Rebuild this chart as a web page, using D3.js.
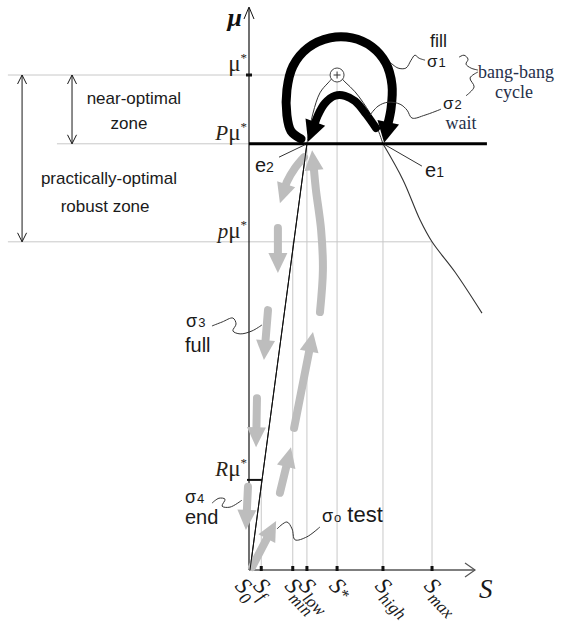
<!DOCTYPE html>
<html><head><meta charset="utf-8">
<script src="https://cdn.jsdelivr.net/npm/d3@7"></script>
<style>html,body{margin:0;padding:0;background:#fff;} svg{display:block;}</style>
</head><body>
<svg id="chart" width="561" height="624"></svg>
<script>
// ================= DATA =================
// substrate concentration ticks on the S axis
const sTickNames  = ["0", "f", "min", "low", "*", "high", "max"];
const sTickValues = [0, 5, 19, 25.3, 38.7, 59.1, 80.9];
// mu level where each vertical guide stops
const sTickGuideTop = [0, 0.182, 0.663, 0.861, 1.0, 0.861, 0.663];
// growth-rate levels on the mu axis
const muLevelPrefix = ["", "P", "p", "R"];
const muLevelValues = [1.0, 0.861, 0.663, 0.182];
// mu(S) curve pieces [S, mu]
const curveRise = [[0, 0], [25.3, 0.861]];
const curveTop  = [[25.3, 0.861], [28, 0.923], [31.1, 0.964], [34.7, 0.984], [38.7, 1.0],
                   [42.2, 0.986], [46.7, 0.966], [50.2, 0.945], [53.3, 0.923], [56.4, 0.895], [59.1, 0.861]];
const curveFall = [[59.1, 0.861], [68, 0.788], [75.6, 0.707], [80.9, 0.663], [91.1, 0.602], [103.1, 0.519]];
// bang-bang cycle arrows [S, mu]
const fillArrow = [[22.7, 0.871], [18.2, 0.887], [16.4, 0.919], [16.4, 0.970], [19.1, 1.018], [25.8, 1.055],
                   [35.6, 1.075], [45.3, 1.075], [54.2, 1.057], [60.4, 1.024], [63.1, 0.980], [62.7, 0.933], [59.6, 0.863]];
const waitArrow = [[56, 0.893], [51.6, 0.921], [46.7, 0.947], [42.2, 0.958], [37.8, 0.958],
                   [33.3, 0.943], [30.2, 0.919], [25.8, 0.865]];
// gray phase arrows (full / end going down, test going up)
const fullArrows = [
  [[24, 0.834], [20, 0.812], [16.4, 0.784], [13.3, 0.741]],
  [[12.4, 0.691], [12.4, 0.600]],
  [[8, 0.525], [6.2, 0.424]],
  [[3.1, 0.347], [2.7, 0.248]],
  [[-0.9, 0.168], [-1.8, 0.081]]
];
const testArrows = [
  [[0.9, 0.006], [11.6, 0.099]],
  [[13.3, 0.156], [18.2, 0.248]],
  [[19.6, 0.287], [28, 0.481]],
  [[31.1, 0.521], [32.4, 0.606], [31.6, 0.687], [29.3, 0.768], [27.6, 0.848]]
];
// wavy leader lines [S, mu]
const leaders = [
  [[62.2, 1.026], [65.8, 1.014], [69.3, 1.014], [71.6, 1.030], [73.3, 1.040], [75.1, 1.034], [77.8, 1.030]],
  [[92.9, 1.036], [95.1, 1.040], [96.9, 1.032], [96, 1.022], [98.2, 1.014], [101.3, 1.010]],
  [[101.3, 1.006], [97.8, 0.994], [99.6, 0.976], [96, 0.958]],
  [[53.3, 0.919], [56.9, 0.937], [61.3, 0.945], [66.7, 0.941], [69.8, 0.929], [72, 0.913], [77.8, 0.919], [84.9, 0.931]],
  [[12.9, 0.834], [24.4, 0.859]],
  [[60, 0.859], [76.4, 0.816]],
  [[-16.9, 0.493], [-12.4, 0.501], [-7.6, 0.509], [-6.2, 0.497], [-7.6, 0.483], [-4.4, 0.477], [0.9, 0.483], [5.3, 0.495]],
  [[-16.9, 0.135], [-13.8, 0.145], [-11.1, 0.143], [-12.4, 0.129], [-8.9, 0.127], [-3.6, 0.141]],
  [[12, 0.083], [16.4, 0.097], [18.7, 0.083], [20, 0.061], [25.3, 0.067], [31.1, 0.087]]
];
// zone extents (mu ranges)
const zoneRanges = [[1.0, 0.861], [1.0, 0.663]];
const zoneAxisS  = [-79.1, -101.3];
// text annotations: [text, S, mu]
const sideTexts = [
  ["near-optimal", -51.6, 0.941], ["zone", -53.8, 0.891],
  ["practically-optimal", -62.7, 0.780], ["robust zone", -64.4, 0.723]
];

// ================= SCALES =================
const svg = d3.select("#chart");
const xS = d3.scaleLinear().domain([0, 100]).range([250, 475]);
const yM = d3.scaleLinear().domain([0, 1]).range([570, 75]);
const P = d => [xS(d[0]), yM(d[1])];

const SANS = "'Liberation Sans', Arial, sans-serif";
const SERIF = "'Liberation Serif', 'Times New Roman', serif";
const INK = "#1a1a1a";
const GRID = "#c8c8c8";

// ================= GUIDES =================
const g = svg.append("g");
g.append("line").attr("x1", xS(-107.6)).attr("x2", xS(35.6)).attr("y1", yM(1)).attr("y2", yM(1))
  .attr("stroke", GRID).attr("stroke-width", 1);
g.append("line").attr("x1", xS(-85.8)).attr("x2", xS(0)).attr("y1", yM(0.861)).attr("y2", yM(0.861))
  .attr("stroke", GRID).attr("stroke-width", 1);
g.append("line").attr("x1", xS(-107.6)).attr("x2", xS(80.9)).attr("y1", yM(0.663)).attr("y2", yM(0.663))
  .attr("stroke", GRID).attr("stroke-width", 1);
sTickValues.forEach((v, i) => {
  if (i === 0) return;
  g.append("line").attr("x1", xS(v)).attr("x2", xS(v)).attr("y1", yM(0)).attr("y2", yM(sTickGuideTop[i]))
    .attr("stroke", GRID).attr("stroke-width", 1);
});

// ================= ZONE ARROWS =================
function vhead(x, y, dir) {
  return `M${x - 4.5},${y - dir * 9}L${x},${y}L${x + 4.5},${y - dir * 9}`;
}
zoneRanges.forEach((r, i) => {
  const x = xS(zoneAxisS[i]);
  const y1 = yM(r[0]), y2 = yM(r[1]);
  g.append("line").attr("x1", x).attr("x2", x).attr("y1", y1).attr("y2", y2).attr("stroke", INK).attr("stroke-width", 1);
  g.append("path").attr("d", vhead(x, y1, -1) + vhead(x, y2, 1)).attr("fill", "none").attr("stroke", INK).attr("stroke-width", 1);
});
sideTexts.forEach(t => {
  g.append("text").attr("x", xS(t[1])).attr("y", yM(t[2])).attr("text-anchor", "middle")
    .attr("font-family", SANS).attr("font-size", 17).attr("fill", INK).text(t[0]);
});

// ================= AXES =================
g.append("line").attr("x1", xS(0) - 1).attr("x2", xS(0) - 1).attr("y1", yM(0)).attr("y2", 8)
  .attr("stroke", "#111").attr("stroke-width", 1.2);
g.append("path").attr("d", `M${xS(0) - 6},${19}L${xS(0) - 1},${7}L${xS(0) + 4},${19}`)
  .attr("fill", "none").attr("stroke", "#111").attr("stroke-width", 1);
g.append("line").attr("x1", xS(0) - 1).attr("x2", xS(100)).attr("y1", yM(0)).attr("y2", yM(0))
  .attr("stroke", "#555").attr("stroke-width", 1.6);
g.append("path").attr("d", `M${xS(100) - 10},${yM(0) - 7}L${xS(100)},${yM(0)}L${xS(100) - 10},${yM(0) + 7}`)
  .attr("fill", "none").attr("stroke", "#555").attr("stroke-width", 1.2);
sTickValues.forEach((v, i) => {
  if (i === 0) return;
  g.append("rect").attr("x", xS(v) - 1.5).attr("y", yM(0) - 4).attr("width", 3).attr("height", 5).attr("fill", "#111");
});
g.append("rect").attr("x", xS(0) - 4).attr("y", yM(1) - 1.5).attr("width", 6).attr("height", 3).attr("fill", "#111");
g.append("line").attr("x1", xS(0) - 3).attr("x2", xS(5.3)).attr("y1", yM(0.182)).attr("y2", yM(0.182))
  .attr("stroke", "#111").attr("stroke-width", 2);

// x tick labels (rotated)
sTickValues.forEach((v, i) => {
  const shift = i === 0 ? -16 : -9;
  const t = g.append("text").attr("transform", `translate(${xS(v) + shift},${yM(0) + 17}) rotate(45)`)
    .attr("font-family", SERIF).attr("font-style", "italic").attr("fill", INK);
  t.append("tspan").attr("font-size", 23).text("S");
  const sub = t.append("tspan").attr("font-size", 17).text(sTickNames[i]);
  sub.attr("dy", sTickNames[i] === "*" ? 0 : 6);
});
g.append("text").attr("x", xS(101.8)).attr("y", yM(-0.057)).attr("font-family", SERIF).attr("font-style", "italic")
  .attr("font-size", 27).attr("fill", INK).text("S");

// mu level labels
muLevelValues.forEach((v, i) => {
  const t = g.append("text").attr("x", xS(0) - 3).attr("y", yM(v) - 4).attr("text-anchor", "end")
    .attr("font-family", SERIF).attr("fill", "#2a2418");
  if (muLevelPrefix[i]) t.append("tspan").attr("font-style", "italic").attr("font-size", 21).text(muLevelPrefix[i]);
  t.append("tspan").attr("font-size", 23).text("μ");
  t.append("tspan").attr("font-size", 13).attr("dy", -9).text("*");
});
g.append("text").attr("x", xS(-3.6)).attr("y", yM(1.099)).attr("text-anchor", "end").attr("font-family", SERIF)
  .attr("font-style", "italic").attr("font-weight", "bold").attr("font-size", 26).attr("fill", "#111").text("μ");

// ================= CURVE =================
const line = d3.line().x(d => xS(d[0])).y(d => yM(d[1]));
g.append("path").attr("d", line(curveRise)).attr("fill", "none").attr("stroke", "#111").attr("stroke-width", 1);
g.append("path").attr("d", line.curve(d3.curveCatmullRom)(curveTop)).attr("fill", "none").attr("stroke", "#333").attr("stroke-width", 1);
g.append("path").attr("d", line.curve(d3.curveCatmullRom)(curveFall)).attr("fill", "none").attr("stroke", "#333").attr("stroke-width", 1.1);
line.curve(d3.curveLinear);

g.append("line").attr("x1", xS(0) - 1).attr("x2", xS(105.3)).attr("y1", yM(0.861)).attr("y2", yM(0.861))
  .attr("stroke", "#000").attr("stroke-width", 3);

// ================= ARROWS =================
function arrow(pts, opt) {
  const p = pts.map(P);
  const tip = p[p.length - 1], prev = p[p.length - 2];
  const dx = tip[0] - prev[0], dy = tip[1] - prev[1], L = Math.hypot(dx, dy);
  const ux = dx / L, uy = dy / L;
  const base = [tip[0] - ux * opt.headLen, tip[1] - uy * opt.headLen];
  const shaft = p.slice(0, -1).concat([[base[0] + ux * 2, base[1] + uy * 2]]);
  g.append("path").attr("d", d3.line().curve(d3.curveCatmullRom)(shaft)).attr("fill", "none")
    .attr("stroke", opt.color).attr("stroke-width", opt.width).attr("stroke-linecap", opt.cap || "butt");
  const hw = opt.headW / 2;
  g.append("path").attr("d", `M${tip[0]},${tip[1]}L${base[0] - uy * hw},${base[1] + ux * hw}L${base[0] + uy * hw},${base[1] - ux * hw}Z`)
    .attr("fill", opt.color);
}
const grayOpt = {color: "#bdbdbd", width: 8, headLen: 20, headW: 19, cap: "round"};
fullArrows.forEach(a => arrow(a, grayOpt));
testArrows.forEach(a => arrow(a, grayOpt));

g.append("path").attr("d", line(curveRise)).attr("fill", "none").attr("stroke", "#111").attr("stroke-width", 1);

arrow(fillArrow, {color: "#000", width: 9, headLen: 21, headW: 22, cap: "round"});
arrow(waitArrow, {color: "#000", width: 8, headLen: 21, headW: 21, cap: "round"});

const cx = xS(38.7), cy = yM(1);
g.append("circle").attr("cx", cx).attr("cy", cy).attr("r", 7).attr("fill", "#fff").attr("stroke", "#444").attr("stroke-width", 1);
g.append("path").attr("d", `M${cx - 3.5},${cy}H${cx + 3.5}M${cx},${cy - 3.5}V${cy + 3.5}`).attr("stroke", "#333").attr("stroke-width", 1);

leaders.forEach(l => {
  g.append("path").attr("d", d3.line().x(d => xS(d[0])).y(d => yM(d[1])).curve(d3.curveCatmullRom)(l))
    .attr("fill", "none").attr("stroke", "#333").attr("stroke-width", 1);
});

// ================= LABELS =================
function sigma(s, m, sub, size) {
  const t = g.append("text").attr("x", xS(s)).attr("y", yM(m)).attr("font-family", SANS).attr("fill", INK);
  t.append("tspan").attr("font-size", size || 18).text("σ");
  t.append("tspan").attr("font-size", 13).attr("dx", 1).text(sub);
  return t;
}
function word(s, m, txt, opt) {
  return g.append("text").attr("x", xS(s)).attr("y", yM(m)).attr("font-family", opt.font || SANS)
    .attr("font-size", opt.size).attr("text-anchor", opt.anchor || "start").attr("fill", opt.color || INK).text(txt);
}
word(80, 1.057, "fill", {size: 18});
sigma(78.7, 1.016, "1", 17);
word(118.2, 0.994, "bang-bang", {size: 18, font: SERIF, anchor: "middle", color: "#26304a"});
word(117.3, 0.954, "cycle", {size: 18, font: SERIF, anchor: "middle", color: "#26304a"});
sigma(85.8, 0.931, "2", 17);
word(93.8, 0.891, "wait", {size: 18, font: SERIF, anchor: "middle", color: "#26304a"});
[["e", "2", 2.2, 0.804], ["e", "1", 77.8, 0.794]].forEach(e => {
  const t = g.append("text").attr("x", xS(e[2])).attr("y", yM(e[3])).attr("font-family", SANS).attr("fill", INK);
  t.append("tspan").attr("font-size", 20).text(e[0]);
  t.append("tspan").attr("font-size", 14).text(e[1]);
});
sigma(-28.4, 0.491, "3");
word(-28.9, 0.440, "full", {size: 20});
sigma(-28.9, 0.135, "4");
word(-28.9, 0.093, "end", {size: 20});
const st = sigma(32, 0.097, "o");
st.append("tspan").attr("font-size", 22).attr("dx", 6).text("test");
</script>
</body></html>
